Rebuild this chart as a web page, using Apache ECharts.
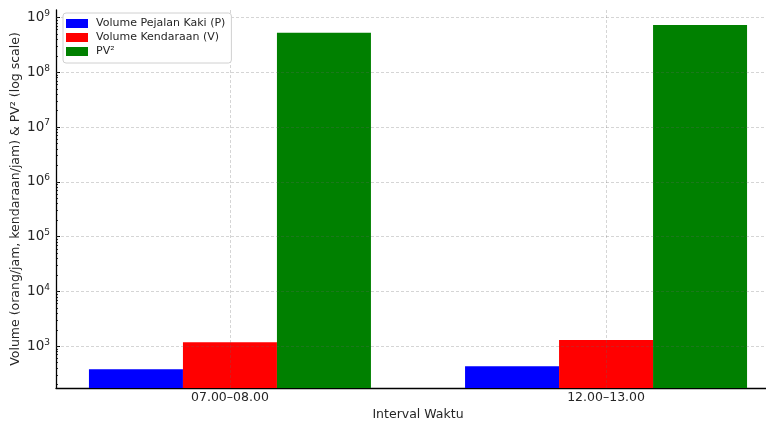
<!DOCTYPE html>
<html>
<head>
<meta charset="utf-8">
<script src="https://cdn.jsdelivr.net/npm/echarts@6/dist/echarts.min.js"></script>
<style>
  html, body { margin: 0; padding: 0; background: #fff; }
  #chart { width: 766px; height: 422px; }
</style>
</head>
<body>
<div id="chart"></div>
<script>
// Time intervals observed
const categories = ['07.00–08.00', '12.00–13.00'];
// Pedestrian volume (orang/jam)
const pedestrianVolume = [380, 430];
// Vehicle volume (kendaraan/jam)
const vehicleVolume = [1180, 1300];
// PV² per interval
const pvSquared = [5.29e8, 7.27e8];

// Major tick values and their exponent labels on the log axis
const majorTicks = [1e3, 1e4, 1e5, 1e6, 1e7, 1e8, 1e9];
const majorTickExponents = ['3', '4', '5', '6', '7', '8', '9'];

const yMin = 173;
const yMax = 1.37e9;

// Minor ticks at 2..9 × 10^k inside the axis range
const minorTicks = [];
for (let k = 2; k <= 9; k++) {
  for (let m = 2; m <= 9; m++) {
    const v = m * Math.pow(10, k);
    if (v > yMin && v < yMax) minorTicks.push(v);
  }
}

const textColor = '#262626';
const font = 'DejaVu Sans';
// translucent grid drawn on top of the bars
const gridLineStyle = { color: 'rgba(100,100,100,0.3)', type: [3, 2], width: 0.9 };

const chart = echarts.init(document.getElementById('chart'), null, { renderer: 'canvas' });

function barSeries(name, values, color) {
  return {
    name: name,
    type: 'bar',
    data: values.map((v, i) => [i, v]),
    barWidth: 94,
    barGap: '0%',
    clip: true,
    itemStyle: { color: color },
    emphasis: { disabled: true }
  };
}

// Grid lines at each category and each decade, layered above the bars
const gridSeries = {
  type: 'line',
  data: [],
  silent: true,
  markLine: {
    silent: true,
    symbol: ['none', 'none'],
    label: { show: false },
    emphasis: { disabled: true },
    lineStyle: gridLineStyle,
    data: categories.map((c, i) => ({ xAxis: i }))
      .concat(majorTicks.map(t => ({ yAxis: t })))
  }
};

chart.setOption({
  animation: false,
  backgroundColor: '#fff',
  textStyle: { fontFamily: font },
  // plot area continues past the right edge of the canvas
  grid: { left: 56, top: 10, width: 724, height: 378, containLabel: false, outerBoundsMode: 'none' },
  legend: {
    z: 10,
    orient: 'vertical',
    left: 63,
    top: 13,
    itemWidth: 22,
    itemHeight: 9,
    itemGap: 3,
    padding: [5, 6, 6, 3],
    icon: 'rect',
    backgroundColor: '#fff',
    borderColor: '#d0d0d0',
    borderWidth: 1,
    borderRadius: 3,
    textStyle: { fontFamily: font, fontSize: 11, color: textColor, padding: [0, 0, 0, 3] },
    data: ['Volume Pejalan Kaki (P)', 'Volume Kendaraan (V)', 'PV²']
  },
  xAxis: {
    type: 'value',
    min: -0.4625,
    max: 1.4625,
    name: 'Interval Waktu',
    nameLocation: 'middle',
    nameGap: 20,
    nameMoveOverlap: false,
    nameTextStyle: { fontFamily: font, fontSize: 12.5, color: textColor },
    axisLine: { show: true, onZero: false, lineStyle: { color: '#000', width: 1.3 } },
    axisTick: { show: false },
    axisLabel: {
      customValues: [0, 1],
      formatter: v => categories[Math.round(v)],
      fontFamily: font, fontSize: 12.5, color: textColor, margin: 3
    },
    splitLine: { show: false }
  },
  yAxis: [
    {
      type: 'log',
      logBase: 10,
      min: yMin,
      max: yMax,
      name: 'Volume (orang/jam, kendaraan/jam) & PV² (log scale)',
      nameLocation: 'middle',
      nameGap: 34,
      nameMoveOverlap: false,
      nameTextStyle: { fontFamily: font, fontSize: 12.5, color: textColor },
      axisLine: { show: true, onZero: false, lineStyle: { color: '#000', width: 1.3 } },
      axisTick: { show: true, inside: true, length: 4, customValues: majorTicks, lineStyle: { color: '#000', width: 1 } },
      axisLabel: {
        customValues: majorTicks,
        formatter: v => {
          const i = majorTicks.findIndex(t => Math.abs(Math.log10(t) - Math.log10(v)) < 1e-6);
          return '{b|10}{e|' + majorTickExponents[i] + '}';
        },
        margin: 6,
        rich: {
          b: { fontFamily: font, fontSize: 13.5, color: textColor },
          e: { fontFamily: font, fontSize: 9, color: textColor, padding: [0, 0, 8, 0] }
        }
      },
      splitLine: { show: false }
    },
    {
      type: 'log',
      logBase: 10,
      min: yMin,
      max: yMax,
      position: 'left',
      axisLine: { show: false, onZero: false },
      axisTick: { show: true, inside: true, length: 2, customValues: minorTicks, lineStyle: { color: '#000', width: 0.8 } },
      axisLabel: { show: false },
      splitLine: { show: false }
    }
  ],
  series: [
    barSeries('Volume Pejalan Kaki (P)', pedestrianVolume, '#0000ff'),
    barSeries('Volume Kendaraan (V)', vehicleVolume, '#ff0000'),
    barSeries('PV²', pvSquared, '#008000'),
    gridSeries
  ]
});
</script>
</body>
</html>
